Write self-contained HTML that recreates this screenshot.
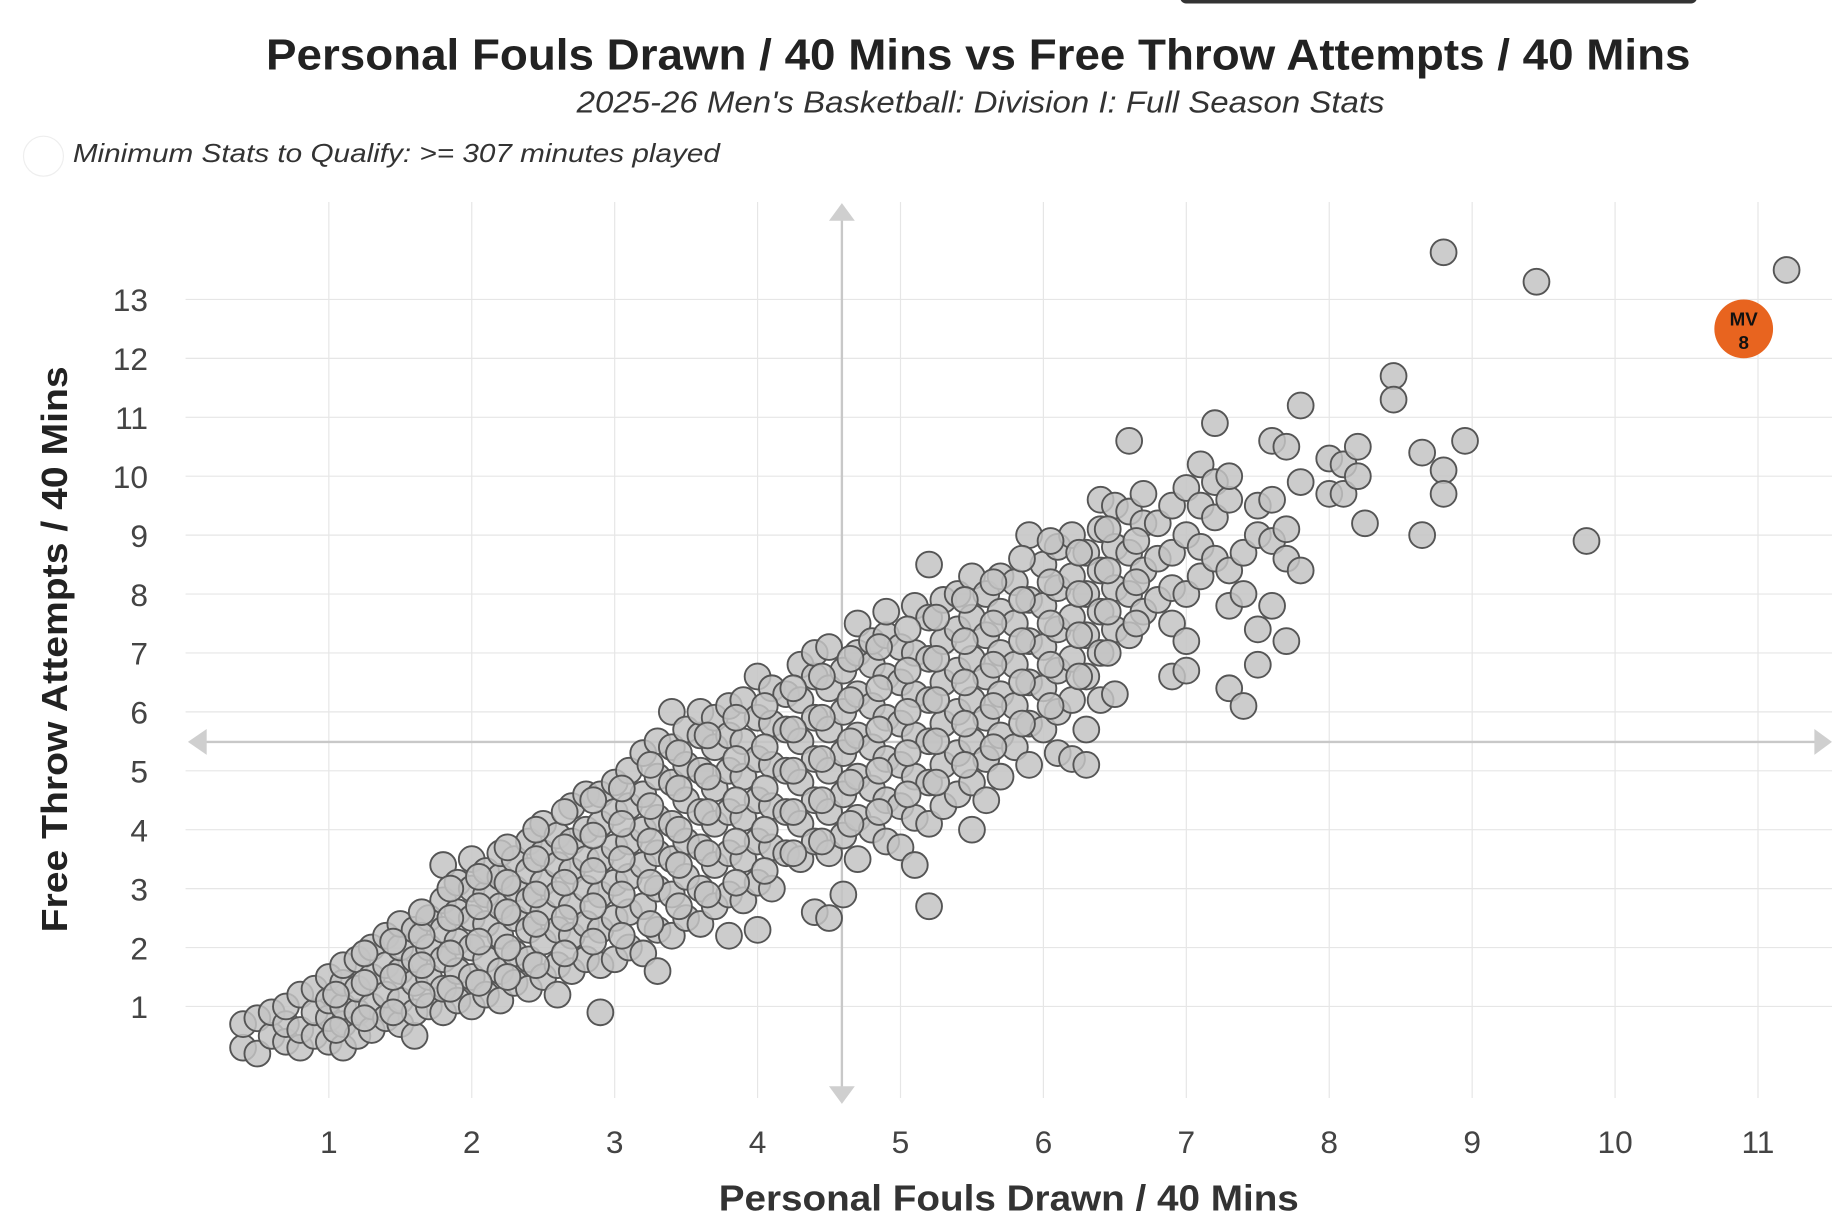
<!DOCTYPE html>
<html><head><meta charset="utf-8"><style>
html,body{margin:0;padding:0;background:#fff;}
svg{display:block;font-family:"Liberation Sans",sans-serif;}
</style></head><body>
<svg id="chart" width="1832" height="1230" viewBox="0 0 1560 1047.4" xmlns="http://www.w3.org/2000/svg">
<rect x="1005" y="-8" width="440" height="11" rx="5" fill="#333"/>
<text x="833" y="59" text-anchor="middle" font-size="37" font-weight="bold" fill="#222" textLength="1213" lengthAdjust="spacingAndGlyphs">Personal Fouls Drawn / 40 Mins vs Free Throw Attempts / 40 Mins</text>
<text x="835" y="96" text-anchor="middle" font-size="26" font-style="italic" fill="#333" textLength="688" lengthAdjust="spacingAndGlyphs">2025-26 Men's Basketball: Division I: Full Season Stats</text>
<circle cx="37" cy="133" r="17" fill="#fff" stroke="#eee"/>
<text x="62" y="138" font-size="22" font-style="italic" fill="#333" textLength="551" lengthAdjust="spacingAndGlyphs">Minimum Stats to Qualify: &gt;= 307 minutes played</text>
<g id="grid"></g>
<g id="quad"></g>
<g id="points"></g>
<g id="ticks"></g>
<text transform="translate(57,553) rotate(-90)" text-anchor="middle" font-size="31" font-weight="bold" fill="#222" textLength="482" lengthAdjust="spacingAndGlyphs">Free Throw Attempts / 40 Mins</text>
<text x="859" y="1031" text-anchor="middle" font-size="31" font-weight="bold" fill="#333" textLength="494" lengthAdjust="spacingAndGlyphs">Personal Fouls Drawn / 40 Mins</text>
</svg>
<script>
const xTicks=[1,2,3,4,5,6,7,8,9,10,11];
const yTicks=[1,2,3,4,5,6,7,8,9,10,11,12,13];
const quadX=4.59, quadY=5.49;
const groupX=[0.4,0.5,0.6,0.7,0.8,0.9,1.0,1.1,1.2,1.3,1.4,1.5,1.6,1.7,1.8,1.9,2.0,2.1,2.2,2.3,2.4,2.5,2.6,2.7,2.8,2.9,3.0,3.1,3.2,3.3,3.4,3.5,3.6,3.7,3.8,3.9,4.0,4.1,4.2,4.3,4.4,4.5,4.6,4.7,4.8,4.9,5.0,5.1,5.2,5.3,5.4,5.5,5.6,5.7,5.8,5.9,6.0,6.1,6.2,6.3,6.4,6.5,6.6,6.7,6.8,6.9,7.0,7.1,7.2,7.3,7.4,7.5,7.6,7.7,7.8,8.0,8.1,8.2,8.25,8.45,8.65,8.8,8.95,9.8,8.8,9.45,11.2];
const groupY=[[0.3,0.7],[0.2,0.8],[0.5,0.9],[0.4,0.7,1.0],[0.3,0.6,1.2],[0.5,0.9,1.3],[0.4,0.8,1.1,1.5],[0.3,0.7,1.0,1.4,1.7],[0.5,0.9,1.3,1.8],[0.6,1.0,1.5,2.0],[0.8,1.2,1.7,2.2],[0.7,1.1,1.6,2.0,2.4],[0.5,0.9,1.4,1.8,2.3],[1.0,1.5,2.0,2.5],[0.9,1.3,1.8,2.3,2.8,3.4],[1.1,1.6,2.1,2.6,3.1],[1.0,1.5,2.0,2.5,3.0,3.5],[1.2,1.8,2.4,2.9,3.3],[1.1,1.6,2.2,2.7,3.2,3.6],[1.4,1.9,2.5,3.0,3.5],[1.3,1.8,2.3,2.8,3.3,3.8],[1.5,2.1,2.6,3.1,3.6,4.1],[1.2,1.7,2.3,2.9,3.4,3.9],[1.6,2.2,2.7,3.3,3.8,4.4],[1.8,2.4,3.0,3.5,4.0,4.6],[0.9,1.7,2.3,2.9,3.5,4.1,4.6],[1.8,2.5,3.1,3.7,4.3,4.8],[2.0,2.6,3.2,3.8,4.4,5.0],[1.9,2.7,3.4,4.0,4.6,5.3],[1.6,2.3,3.0,3.6,4.2,4.9,5.5],[2.2,2.9,3.5,4.1,4.8,5.4,6.0],[2.5,3.2,3.8,4.5,5.1,5.7],[2.4,3.0,3.7,4.3,5.0,5.6,6.0],[2.7,3.4,4.1,4.7,5.4,5.9],[2.2,2.9,3.6,4.3,5.0,5.6,6.1],[2.8,3.5,4.2,4.9,5.5,6.2],[2.3,3.1,3.8,4.5,5.2,5.9,6.6],[3.0,3.7,4.4,5.1,5.8,6.4],[3.6,4.3,5.0,5.7,6.3],[3.5,4.1,4.8,5.5,6.2,6.8],[2.6,3.8,4.5,5.2,5.9,6.6,7.0],[2.5,3.6,4.3,5.0,5.7,6.4,7.1],[2.9,3.9,4.6,5.3,6.0,6.7],[3.5,4.2,4.9,5.6,6.3,7.0,7.5],[4.0,4.7,5.4,6.1,6.8,7.2],[3.8,4.5,5.2,5.9,6.6,7.3,7.7],[3.7,4.4,5.1,5.8,6.5,7.1],[3.4,4.2,4.9,5.6,6.3,7.0,7.8],[2.7,4.1,4.8,5.5,6.2,6.9,7.6,8.5],[4.4,5.1,5.8,6.5,7.2,7.9],[4.6,5.3,6.0,6.7,7.4,8.0],[4.0,4.8,5.5,6.2,6.9,7.6,8.3],[4.5,5.2,5.9,6.6,7.3,8.0],[4.9,5.6,6.3,7.0,7.7,8.3],[5.4,6.1,6.8,7.5,8.2],[5.1,5.8,6.5,7.2,7.9,9.0],[5.7,6.4,7.1,7.8,8.5],[5.3,6.0,6.7,7.4,8.1,8.8],[5.2,6.2,6.9,7.6,8.3,9.0],[5.1,5.7,6.6,7.3,8.0,8.7],[6.2,7.0,7.7,8.4,9.1,9.6],[6.3,7.4,8.1,8.8,9.5],[7.3,8.0,8.7,9.4,10.6],[7.7,8.4,9.2,9.7],[7.9,8.6,9.2],[6.6,7.5,8.1,8.7,9.5],[6.7,7.2,8.0,9.0,9.8],[8.3,8.8,9.5,10.2],[8.6,9.3,9.9,10.9],[6.4,7.8,8.4,9.6,10.0],[6.1,8.0,8.7],[6.8,7.4,9.0,9.5],[7.8,8.9,10.6,9.6],[7.2,8.6,9.1,10.5],[8.4,9.9,11.2],[9.7,10.3],[9.7,10.2],[10.5,10.0],[9.2],[11.7,11.3],[10.4,9.0],[10.1,9.7],[10.6],[8.9],[13.8],[13.3],[13.5]];
const groupX2=[1.05,1.25,1.45,1.65,1.85,2.05,2.25,2.45,2.65,2.85,3.05,3.25,3.45,3.65,3.85,4.05,4.25,4.45,4.65,4.85,5.05,5.25,5.45,5.65,5.85,6.05,6.25,6.45,6.65];
const groupY2=[[0.6,1.2],[0.8,1.4,1.9],[0.9,1.5,2.1],[1.2,1.7,2.2,2.6],[1.3,1.9,2.5,3.0],[1.4,2.1,2.7,3.2],[1.5,2.0,2.6,3.1,3.7],[1.7,2.4,2.9,3.5,4.0],[1.9,2.5,3.1,3.7,4.3],[2.1,2.7,3.3,3.9,4.5],[2.2,2.9,3.5,4.1,4.7],[2.4,3.1,3.8,4.4,5.1],[2.7,3.4,4.0,4.7,5.3],[2.9,3.6,4.3,4.9,5.6],[3.1,3.8,4.5,5.2,5.9],[3.3,4.0,4.7,5.4,6.1],[3.6,4.3,5.0,5.7,6.4],[3.8,4.5,5.2,5.9,6.6],[4.1,4.8,5.5,6.2,6.9],[4.3,5.0,5.7,6.4,7.1],[4.6,5.3,6.0,6.7,7.4],[4.8,5.5,6.2,6.9,7.6],[5.1,5.8,6.5,7.2,7.9],[5.4,6.1,6.8,7.5,8.2],[5.8,6.5,7.2,7.9,8.6],[6.1,6.8,7.5,8.2,8.9],[6.6,7.3,8.0,8.7],[7.0,7.7,8.4,9.1],[7.5,8.2,8.9]];
const highlightX=[10.9], highlightY=[12.5], highlightLabel=["MV","8"];

const NS="http://www.w3.org/2000/svg";
const plotLeft=158, plotRight=1560, plotTop=172, plotBottom=935;
function sx(v){return 158.3+v*121.7;}
function sy(v){return 907.2-v*50.17;}
function mk(tag,attrs,parent){const e=document.createElementNS(NS,tag);for(const k in attrs)e.setAttribute(k,attrs[k]);parent.appendChild(e);return e;}
const grid=document.getElementById('grid'), ticks=document.getElementById('ticks');
xTicks.forEach(t=>{
  const l=mk('line',{x1:sx(t),x2:sx(t),y1:plotTop,y2:plotBottom,stroke:'#e6e6e6','stroke-width':1},grid);
  
  
  const tx=mk('text',{x:sx(t),y:982,'text-anchor':'middle','font-size':27,fill:'#444'},ticks);
  tx.textContent=t;
  
  
});
yTicks.forEach(t=>{
  const l=mk('line',{x1:plotLeft,x2:plotRight,y1:sy(t),y2:sy(t),stroke:'#e6e6e6','stroke-width':1},grid);
  
  
  const tx=mk('text',{x:126,y:sy(t)+10,'text-anchor':'end','font-size':27,fill:'#444'},ticks);
  tx.textContent=t;
  
  
});
const quad=document.getElementById('quad');
const qx=sx(quadX), qy=sy(quadY);
const vl=mk('line',{x1:qx,x2:qx,y1:180,y2:930,stroke:'#c8c8c8','stroke-width':2},quad);


const hl=mk('line',{x1:165,x2:1552,y1:qy,y2:qy,stroke:'#c8c8c8','stroke-width':2},quad);


[`${qx-11},188 ${qx+11},188 ${qx},173`,`${qx-11},925 ${qx+11},925 ${qx},940`,`176,${qy-11} 176,${qy+11} 160,${qy}`,`1545,${qy-11} 1545,${qy+11} 1560,${qy}`].forEach(p=>{
  const a=mk('polygon',{points:p,fill:'#cfcfcf'},quad);
  
  
});
const pts=document.getElementById('points');
function drawGroups(xs,ys){
  xs.forEach((x,i)=>{
    ys[i].forEach(y=>{
      const c=mk('circle',{cx:sx(x),cy:sy(y),r:11,fill:'rgba(195,195,195,0.85)',stroke:'#555','stroke-width':1.6},pts);
      
      
    });
  });
}
drawGroups(groupX,groupY);
drawGroups(groupX2,groupY2);
highlightX.forEach((x,i)=>{
  const c=mk('circle',{cx:sx(x),cy:sy(highlightY[i]),r:25,fill:'#e8641f'},pts);
  
  
  const t1=mk('text',{x:sx(x),y:sy(highlightY[i])-3,'text-anchor':'middle','font-size':16,'font-weight':'bold',fill:'#111'},pts);
  t1.textContent=highlightLabel[0];
  
  
  const t2=mk('text',{x:sx(x),y:sy(highlightY[i])+17,'text-anchor':'middle','font-size':16,'font-weight':'bold',fill:'#111'},pts);
  t2.textContent=highlightLabel[1];
  
  
});
</script>
</body></html>
